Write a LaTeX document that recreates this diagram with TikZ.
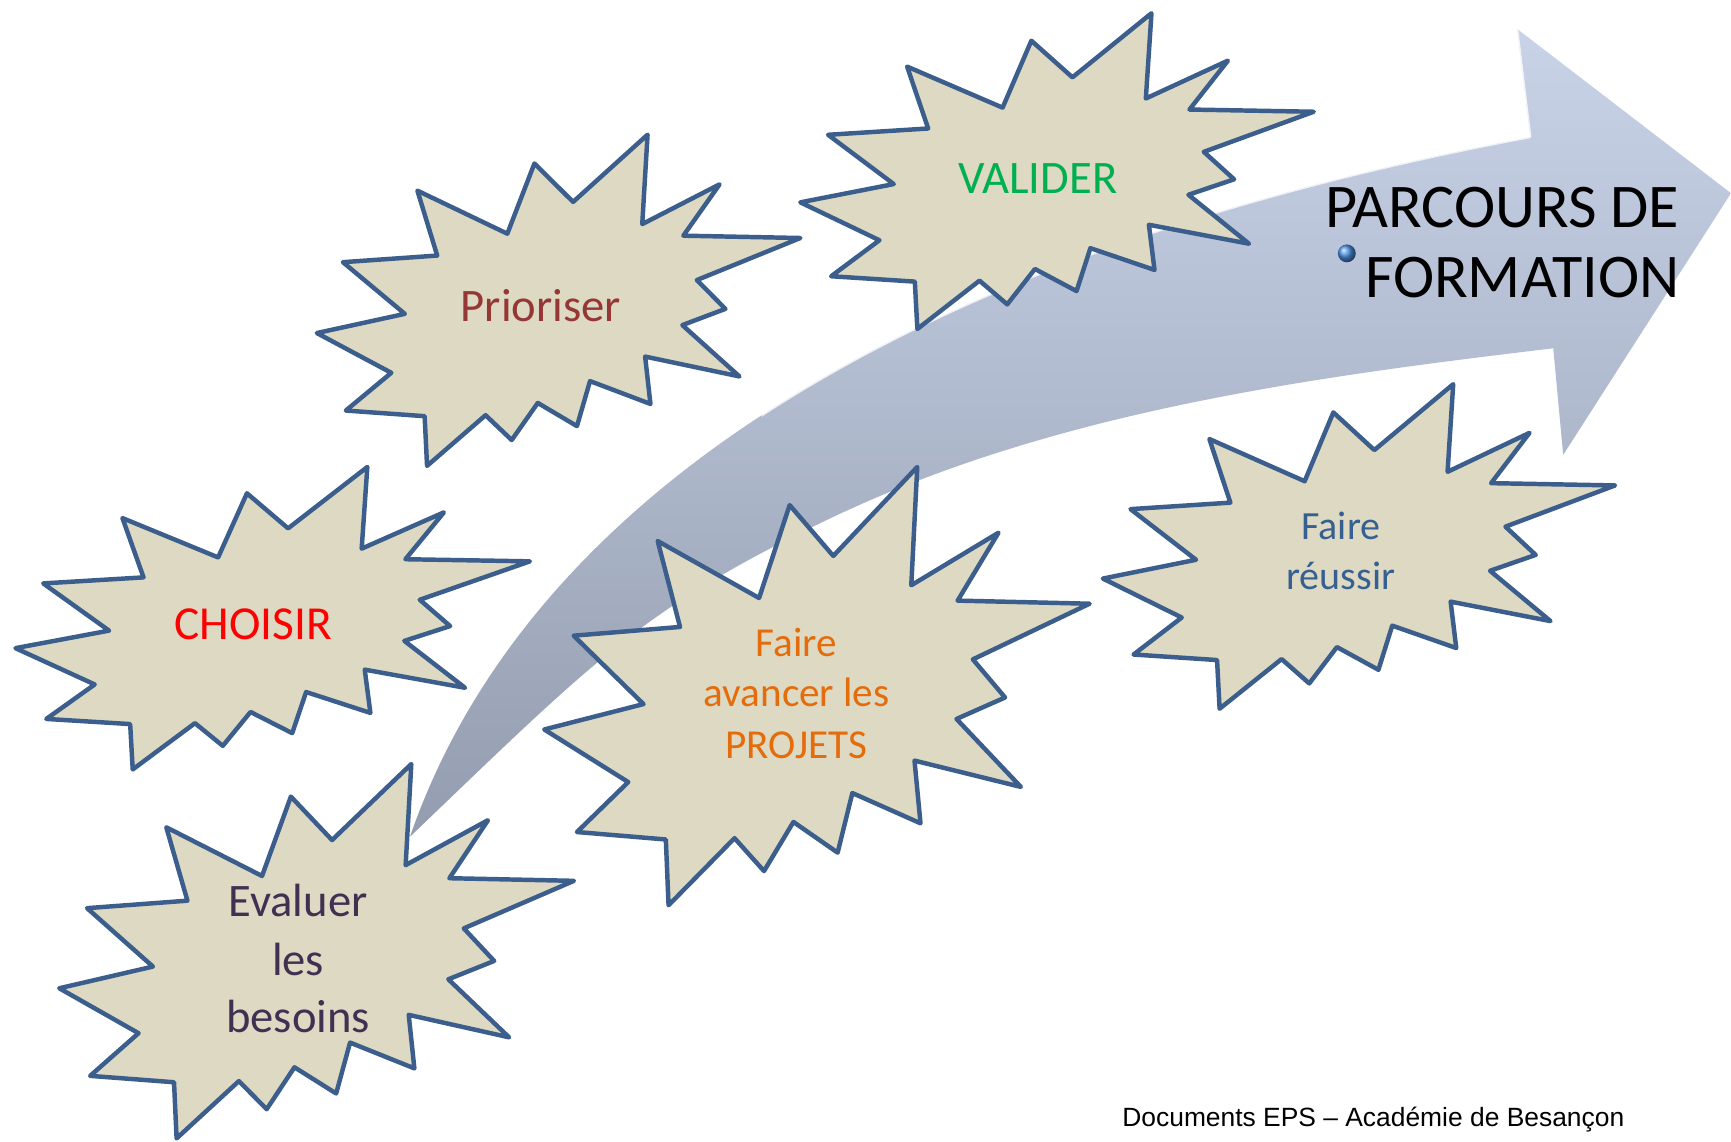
\documentclass[tikz,border=0pt]{standalone}
\usepackage{fontspec}
\setmainfont{Carlito}
\newfontfamily\footfont{Liberation Sans}
\definecolor{starfill}{HTML}{DDD9C3}
\definecolor{starline}{HTML}{3B5E8C}
\definecolor{arrowtop}{HTML}{C9D3E8}
\definecolor{arrowbot}{HTML}{949DAF}
\definecolor{cPrio}{HTML}{953735}
\definecolor{cChoi}{HTML}{FF0000}
\definecolor{cVal}{HTML}{00B050}
\definecolor{cProj}{HTML}{E46C0A}
\definecolor{cReus}{HTML}{376092}
\definecolor{cEval}{HTML}{403152}
\definecolor{ballblue}{HTML}{4A8FE0}
\tikzset{
  burststyle/.style={fill=starfill, draw=starline, line width=1.15pt, line join=round},
  lbl/.style={anchor=base, inner sep=0pt, outer sep=0pt},
  big/.style={font=\fontsize{12}{14.6}\selectfont},
  mid/.style={font=\fontsize{10.6}{12.9}\selectfont},
  small/.style={font=\fontsize{10.3}{12.6}\selectfont},
}
% #1 x0, #2 y0, #3 width, #4 height
\newcommand\drawburst[4]{%
  \begin{scope}[shift={(#1,#2)}, xscale=#3, yscale=#4]
    \draw[burststyle] (0.684,0) -- (0.673,0.270) -- (0.833,0.150) -- (0.758,0.305)
      -- (1,0.312) -- (0.786,0.439) -- (0.845,0.526) -- (0.756,0.575)
      -- (0.874,0.730) -- (0.679,0.670) -- (0.690,0.813) -- (0.565,0.744)
      -- (0.538,0.880) -- (0.457,0.810) -- (0.403,0.922) -- (0.349,0.847)
      -- (0.228,1) -- (0.223,0.850) -- (0.060,0.833) -- (0.154,0.719)
      -- (0,0.599) -- (0.182,0.541) -- (0.054,0.385) -- (0.249,0.365)
      -- (0.208,0.169) -- (0.394,0.299) -- (0.450,0.087) -- (0.530,0.203) -- cycle;
  \end{scope}}
\begin{document}
\begin{tikzpicture}[x=0.01cm, y=-0.01cm]
\useasboundingbox (0,0) rectangle (1568,1033.6);
\fill[white] (0,0) rectangle (1568,1033.6);

% big curved arrow
\coordinate (tail) at (371.4,757.9);
\coordinate (notchU) at (1386,124);
\coordinate (barbU) at (1374,26);
\coordinate (tip) at (1568,175);
\coordinate (barbL) at (1416,412);
\coordinate (notchL) at (1407,315.5);
\coordinate (lowmid) at (742.8,474);
\shade[top color=arrowtop, bottom color=arrowbot]
  (tail) .. controls (475.9,455) and (814,231) .. (notchU)
  -- (barbU) -- (tip) -- (barbL) -- (notchL)
  .. controls (1181.6,342.3) and (947.1,374.1) .. (lowmid)
  .. controls (580.8,553.2) and (539.3,596.9) .. (tail)
  -- cycle;
\begin{scope}
  \clip (690,0) rectangle (1568,1033.6);
  \draw[white, opacity=0.75, line width=0.7pt, line join=round]
    (tail) .. controls (475.9,455) and (814,231) .. (notchU) -- (barbU);
\end{scope}

% bursts
\drawburst{287}{122}{438}{300}
\drawburst{725}{12}{465}{286}
\drawburst{14}{423}{466}{274}
\drawburst{493}{423}{494}{397}
\drawburst{999}{348}{464}{294}
\drawburst{53.7}{692.1}{466.2}{339.1}

% labels
\node[lbl, big, text=cVal] (valider) at (940,175.1) {VALIDER};
\node[lbl, big, text=cPrio] (prioriser) at (490,291.4) {Prioriser};
\node[lbl, font=\fontsize{12.2}{14.6}\selectfont, text=cChoi] (choisir) at (229.5,579.1) {CHOISIR};
\node[lbl, mid, text=cProj] (proj1) at (721.6,594.8) {Faire};
\node[lbl, mid, text=cProj] (proj2) at (721.6,640.1) {avancer les};
\node[lbl, mid, text=cProj] (proj3) at (721.6,686.9) {PROJETS};
\node[lbl, small, text=cReus] (reus1) at (1214.6,489.1) {Faire};
\node[lbl, small, text=cReus] (reus2) at (1214.6,534.4) {réussir};
\node[lbl, big, text=cEval] (eval1) at (270,830.4) {Evaluer};
\node[lbl, big, text=cEval] (eval2) at (270,883.2) {les};
\node[lbl, big, text=cEval] (eval3) at (270,935.4) {besoins};

\node[inner sep=0pt, anchor=base east, font=\fontsize{16}{18}\selectfont] (parcours) at (1521.8,206.2) {PARCOURS DE};
\node[inner sep=0pt, anchor=base east, font=\fontsize{16}{18}\selectfont] (formation) at (1521.8,269.6) {FORMATION};
\node[circle, inner sep=0pt, minimum size=4.6pt, ball color=ballblue] (dot) at (1220,229.5) {};

\node[inner sep=0pt, anchor=base west, font=\footfont\fontsize{6.8}{8}\selectfont] (footer) at (1016,1020) {Documents EPS – Académie de Besançon};
\end{tikzpicture}
\end{document}
